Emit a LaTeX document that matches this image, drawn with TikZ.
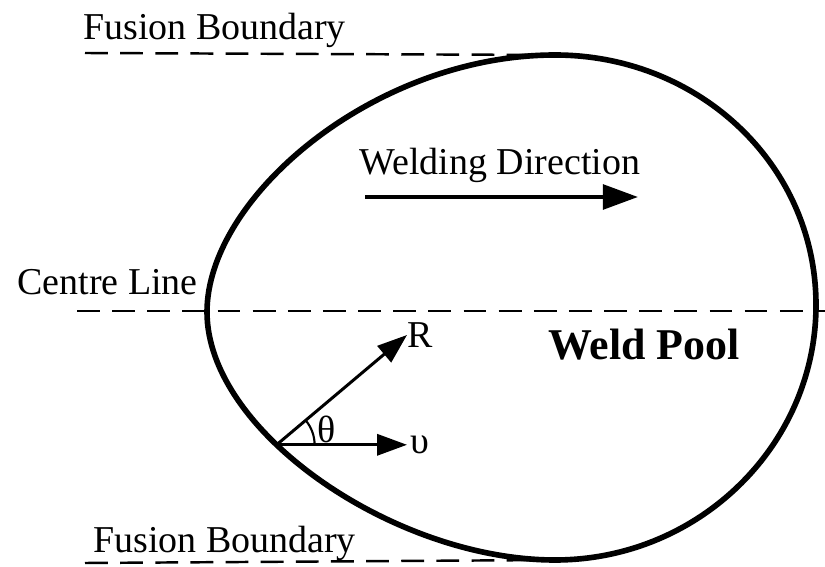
\documentclass[tikz,border=0pt]{standalone}
\usepackage{fontspec}
\setmainfont{Liberation Serif}
\usetikzlibrary{arrows.meta,positioning}

\begin{document}
\begin{tikzpicture}[
    x = 0.02cm, y = -0.02cm,
    lbl/.style      = {font=\fontsize{21.6}{26}\selectfont, inner sep=0pt},
    boldlbl/.style  = {font=\fontsize{25}{30}\selectfont\bfseries, inner sep=0pt},
    pool/.style     = {line width=3.2pt},
    cline/.style    = {line width=1.4pt, dash pattern=on 13pt off 7pt},
    arr/.style      = {-{Triangle[length=17pt,width=12pt]}, line width=1.7pt},
    bigarr/.style   = {-{Triangle[length=20pt,width=14pt]}, line width=2.4pt}
]
\useasboundingbox (0,0) rectangle (825,567);

\coordinate (ptop)   at (555,55);
\coordinate (pright) at (816,305);
\coordinate (pbot)   at (555,560);
\coordinate (pleft)  at (207,312);

\draw[pool] (ptop) .. controls (699,55) and (816,165) .. (pright)
                   .. controls (816,445) and (699,560) .. (pbot)
                   .. controls (395,560) and (207,432) .. (pleft) coordinate[pos=0.62] (orig)
                   .. controls (207,197) and (375,55) .. cycle;

\coordinate (fbtl) at (85,53);
\coordinate (fbbl) at (85,563);
\coordinate (cll)  at (77,311);
\coordinate (clr)  at (825,311);

\draw[cline] (fbtl) -- (ptop);
\draw[cline] (fbbl) -- (pbot);
\draw[cline] (cll)  -- (clr);

\node[lbl, anchor=base west] (fbtop) at (83,40)  {Fusion Boundary};
\node[lbl, anchor=base west] (fbbot) at (93,552) {Fusion Boundary};
\node[lbl, anchor=base west] (cline) at (17,295) {Centre Line};
\node[boldlbl, anchor=base west] (pool) at (548,360) {Weld Pool};

\coordinate (wdl) at (365,197);
\coordinate (wdr) at (638,197);
\draw[bigarr] (wdl) -- (wdr);
\node[lbl, anchor=base] (wdir) at (500,175) {Welding Direction};

\coordinate (rtip) at (407,335);
\coordinate (vtip) at (orig -| rtip);
\draw[arr] (orig) -- (rtip);
\draw[arr] (orig) -- (vtip);
\draw[line width=1.2pt] (orig) ++(38,0) arc[start angle=0, end angle=-40, radius=38];

\node[lbl, right=0pt of rtip] (rlab) {R};
\node[lbl, right=2pt of vtip] (vlab) {υ};
\node[lbl] (theta) at (327,429) {θ};

\end{tikzpicture}
\end{document}
